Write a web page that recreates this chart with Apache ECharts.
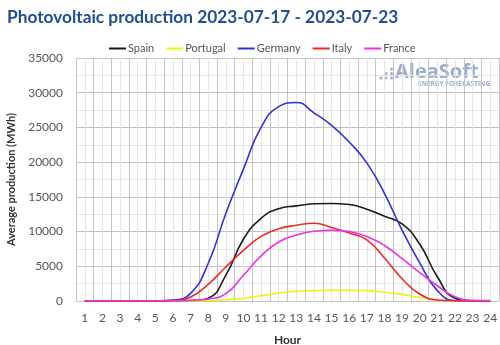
<!DOCTYPE html>
<html>
<head>
<meta charset="utf-8">
<script src="https://cdn.jsdelivr.net/npm/echarts@6/dist/echarts.min.js"></script>
<style>html,body{margin:0;padding:0;background:#fff}#c{width:500px;height:345px}</style>
</head>
<body>
<div id="c"></div>
<script>
const hours = [1,2,3,4,5,6,7,8,9,10,11,12,13,14,15,16,17,18,19,20,21,22,23,24];
const spain    = [0,0,0,0,0,5,40,400,3700,8900,11900,13300,13700,14000,14050,13900,13200,12200,11100,8200,3500,400,20,10];
const portugal = [0,0,0,0,0,0,5,50,150,400,750,1150,1400,1500,1550,1550,1500,1250,950,500,150,30,5,0];
const germany  = [0,0,0,0,0,120,1100,5400,12600,19000,25000,28000,28600,27100,25300,22900,19900,15500,10200,5500,1500,60,5,0];
const italy    = [0,0,0,0,10,50,580,2400,4900,7300,9300,10400,10900,11200,10600,9800,8800,6200,3200,1000,150,30,5,0];
const france   = [10,10,10,10,10,30,100,300,1050,3700,6500,8500,9500,10050,10200,10000,9300,8000,6100,4100,2200,600,100,50];
const seriesNames = ['Spain','Portugal','Germany','Italy','France'];
const seriesColors = ['#1a1a1a','#f2f20c','#3030dd','#ee2a2a','#f030e8'];
const seriesData = [spain, portugal, germany, italy, france];

const chart = echarts.init(document.getElementById('c'));
const font = 'Lato, "Open Sans", sans-serif';
chart.setOption({
  animation: false,
  title: {
    text: 'Photovoltaic production 2023-07-17 - 2023-07-23',
    left: 2, top: 4,
    textStyle: {color: '#1d4f91', fontSize: 17.3, fontWeight: 'bold', fontFamily: font}
  },
  legend: {
    data: seriesNames,
    top: 38, left: 103,
    itemWidth: 17, itemHeight: 2, itemGap: 11,
    textStyle: {color: '#555', fontSize: 11, fontFamily: font, padding: [0,0,0,-3]}
  },
  grid: {left: 76, right: 1, top: 58, bottom: 44, containLabel: false, outerBoundsMode: 'none'},
  xAxis: {
    type: 'value', min: 0.5, max: 24.5, interval: 0.5,
    name: 'Hour', nameLocation: 'middle', nameGap: 33,
    nameTextStyle: {color: '#333', fontSize: 12, fontWeight: 'bold', fontFamily: font},
    axisLine: {show: false}, axisTick: {show: false},
    axisLabel: {
      color: '#555', fontSize: 12, fontFamily: font, margin: 11,
      formatter: v => Number.isInteger(v) ? String(v) : ''
    },
    splitLine: {show: true, lineStyle: {color: ['#c4c4c4', '#e4e4e4'], width: 1}}
  },
  yAxis: {
    type: 'value', min: 0, max: 35000, interval: 2500,
    name: 'Average production (MWh)', nameLocation: 'middle', nameGap: 48,
    nameTextStyle: {color: '#333', fontSize: 11, fontWeight: 'bold', fontFamily: font},
    axisLine: {show: false}, axisTick: {show: false},
    axisLabel: {
      color: '#555', fontSize: 12, fontFamily: font, margin: 13,
      formatter: v => (v % 5000 === 0) ? String(v) : ''
    },
    splitLine: {show: true, lineStyle: {color: ['#c4c4c4', '#e4e4e4'], width: 1}}
  },
  graphic: [
    {type: 'circle', shape: {cx: 381, cy: 78, r: 1.5}, style: {fill: '#9fb1cd'}},
    {type: 'circle', shape: {cx: 386, cy: 78, r: 1.5}, style: {fill: '#9fb1cd'}},
    {type: 'circle', shape: {cx: 386, cy: 73.5, r: 1.5}, style: {fill: '#9fb1cd'}},
    {type: 'circle', shape: {cx: 391.5, cy: 78, r: 1.5}, style: {fill: '#9fb1cd'}},
    {type: 'circle', shape: {cx: 391.5, cy: 73.5, r: 1.5}, style: {fill: '#9fb1cd'}},
    {type: 'circle', shape: {cx: 391.5, cy: 69, r: 1.5}, style: {fill: '#9fb1cd'}},
    {type: 'text', left: 395, top: 62, style: {text: 'AleaSoft', fill: '#9aadca', font: 'bold 20px "Open Sans", Lato, sans-serif'}},
    {type: 'text', left: 418, top: 81, style: {text: 'ENERGY FORECASTING', fill: '#9aadca', font: 'bold 6.5px "Open Sans", Lato, sans-serif'}}
  ],
  series: seriesNames.map((n, i) => ({
    name: n, type: 'line', symbol: 'none', smooth: 0.5,
    color: seriesColors[i],
    lineStyle: {width: 1.6, color: seriesColors[i]},
    data: hours.map((h, j) => [h, seriesData[i][j]])
  }))
});
</script>
</body>
</html>
